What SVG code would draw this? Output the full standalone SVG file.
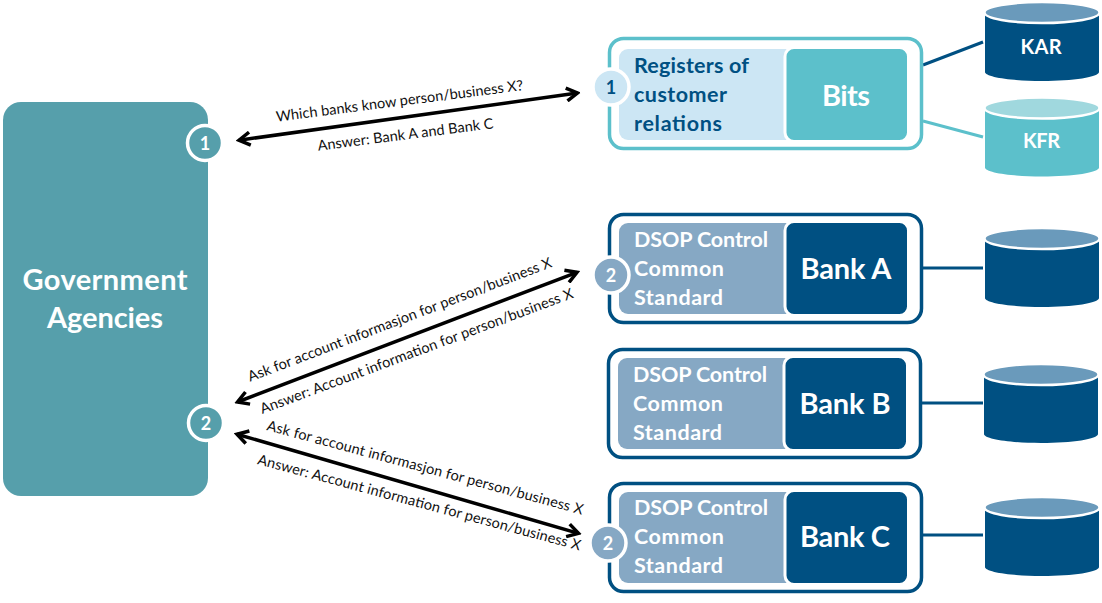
<svg xmlns="http://www.w3.org/2000/svg" width="1102" height="603" viewBox="0 0 1102 603">
<style>
text{font-family:Lato,"Open Sans",sans-serif}
.b{font-weight:700}
.w{fill:#fff}
.n{fill:#005082}
.lab{font-size:14.500px;fill:#111}
.t1{font-size:21.500px;font-weight:700}
.big{font-size:29px;font-weight:700;fill:#fff;text-anchor:middle}
.gov{font-size:29px;font-weight:700;fill:#fff;text-anchor:middle}
.cl{font-size:20px;font-weight:700;fill:#fff;text-anchor:middle}
.num{font-size:18px;font-weight:700;text-anchor:middle}
.outer{fill:#fff;stroke-width:3.500}
.badge{stroke:#fff;stroke-width:3.500}
.sep{stroke:#fff;stroke-width:3}
.con{fill:none;stroke-width:3}
.arr{fill:none;stroke:#000;stroke-width:3.500;marker-start:url(#oh);marker-end:url(#oh)}
.dk{fill:#005082}.dkt{fill:#6a9abb}
.tl{fill:#5cc0cb}.tlt{fill:#a0d8de}
.mid{fill:#86a8c4}
</style>
<defs>
<marker id="oh" viewBox="0 0 16 16" refX="13" refY="8" markerWidth="16" markerHeight="16" markerUnits="userSpaceOnUse" orient="auto-start-reverse">
<path d="M2 1.500 L13 8 L2 14.500" fill="none" stroke="#000" stroke-width="3.500"/>
</marker>
<path id="cyl" d="M0 11 V69 C0 74 26 78 57 78 C88 78 114 74 114 69 V11 Z"/>
<ellipse id="cylt" cx="57" cy="9.500" rx="57.500" ry="10.500"/>
</defs>

<g id="connectors">
<path class="con" stroke="#005082" d="M923 65 L983 42"/>
<path class="con" stroke="#5cc0cb" d="M923 121 L983 137"/>
<path class="con" stroke="#005082" d="M923 268 H983"/>
<path class="con" stroke="#005082" d="M922 403 H983"/>
<path class="con" stroke="#005082" d="M923 535 H983"/>
<path class="arr" d="M239 140.200 L577.500 93"/>
<path class="arr" d="M237.500 402 L577 272.300"/>
<path class="arr" d="M237 434.200 L578.500 533.400"/>
</g>

<g id="government">
<rect x="3" y="102" width="205" height="394" rx="18" fill="#569fab"/>
<text class="gov" x="105" y="290" textLength="165">Government</text>
<text class="gov" x="105" y="328" textLength="116">Agencies</text>
<circle class="badge" cx="205" cy="143" r="17.500" fill="#569fab"/>
<text class="num w" x="205" y="150">1</text>
<circle class="badge" cx="206" cy="423" r="17.500" fill="#569fab"/>
<text class="num w" x="206" y="430">2</text>
</g>

<g id="labels">
<text class="lab" transform="translate(276.700 121.700) rotate(-7.300)" textLength="249">Which banks know person/business X?</text>
<text class="lab" transform="translate(318.300 150.700) rotate(-7.300)" textLength="177">Answer: Bank A and Bank C</text>
<text class="lab" transform="translate(250 381.700) rotate(-20.800)" textLength="324">Ask for account informasjon for person/business X</text>
<text class="lab" transform="translate(262.300 414) rotate(-20.500)" textLength="333">Answer: Account information for person/business X</text>
<text class="lab" transform="translate(266 430) rotate(15)" textLength="327">Ask for account informasjon for person/business X</text>
<text class="lab" transform="translate(256.700 464) rotate(15)" textLength="334">Answer: Account information for person/business X</text>
</g>

<g id="bits">
<rect class="outer" x="609.500" y="38.500" width="312" height="110" rx="14" stroke="#5cc0cb"/>
<rect x="619" y="49" width="288" height="91" rx="9" fill="#cce6f4"/>
<rect class="sep tl" x="785" y="47.500" width="123.500" height="94" rx="9"/>
<text class="t1 n" x="634" y="73" textLength="115">Registers of</text>
<text class="t1 n" x="634" y="102" textLength="93">customer</text>
<text class="t1 n" x="634" y="131" textLength="88">relations</text>
<text class="big" x="846" y="106" textLength="48">Bits</text>
<circle class="badge" cx="611" cy="87" r="18" fill="#cce6f4"/>
<text class="num n" x="611" y="94">1</text>
</g>

<g id="bank-a">
<rect class="outer" x="609.500" y="214.500" width="312" height="108" rx="14" stroke="#005082"/>
<rect class="mid" x="619" y="223" width="288" height="91" rx="9"/>
<rect class="sep dk" x="785" y="221.500" width="123.500" height="94" rx="9"/>
<text class="t1 w" x="634" y="247" textLength="134">DSOP Control</text>
<text class="t1 w" x="634" y="276" textLength="90">Common</text>
<text class="t1 w" x="634" y="305" textLength="89">Standard</text>
<text class="big" x="846" y="279" textLength="91">Bank A</text>
<circle class="badge mid" cx="611" cy="275" r="18"/>
<text class="num w" x="611" y="282">2</text>
</g>

<g id="bank-b">
<rect class="outer" x="608.500" y="349.500" width="312" height="108" rx="14" stroke="#005082"/>
<rect class="mid" x="618" y="358" width="288" height="91" rx="9"/>
<rect class="sep dk" x="784" y="356.500" width="123.500" height="94" rx="9"/>
<text class="t1 w" x="633" y="382" textLength="134">DSOP Control</text>
<text class="t1 w" x="633" y="411" textLength="90">Common</text>
<text class="t1 w" x="633" y="440" textLength="89">Standard</text>
<text class="big" x="845" y="414" textLength="91">Bank B</text>
</g>

<g id="bank-c">
<rect class="outer" x="609.500" y="483.500" width="312" height="108" rx="14" stroke="#005082"/>
<rect class="mid" x="619" y="492" width="288" height="91" rx="9"/>
<rect class="sep dk" x="785" y="490.500" width="123.500" height="94" rx="9"/>
<text class="t1 w" x="634" y="515" textLength="134">DSOP Control</text>
<text class="t1 w" x="634" y="544" textLength="90">Common</text>
<text class="t1 w" x="634" y="573" textLength="89">Standard</text>
<text class="big" x="845" y="547" textLength="90">Bank C</text>
<circle class="badge mid" cx="608" cy="543" r="18"/>
<text class="num w" x="608" y="550">2</text>
</g>

<g id="kar" transform="translate(985 3)">
<use href="#cyl" class="dk"/><use href="#cylt" class="dkt" stroke="#fff" stroke-width="2.500"/>
<text class="cl" x="56" y="51" textLength="41">KAR</text>
</g>
<g id="kfr" transform="translate(985 98.500)">
<use href="#cyl" class="tl"/><use href="#cylt" class="tlt" stroke="#fff" stroke-width="2.500"/>
<text class="cl" x="56.500" y="49.500" textLength="37">KFR</text>
</g>
<g id="db-a" transform="translate(985 229)"><use href="#cyl" class="dk"/><use href="#cylt" class="dkt" stroke="#fff" stroke-width="2.500"/></g>
<g id="db-b" transform="translate(984 365)"><use href="#cyl" class="dk"/><use href="#cylt" class="dkt" stroke="#fff" stroke-width="2.500"/></g>
<g id="db-c" transform="translate(985 498)"><use href="#cyl" class="dk"/><use href="#cylt" class="dkt" stroke="#fff" stroke-width="2.500"/></g>
</svg>
